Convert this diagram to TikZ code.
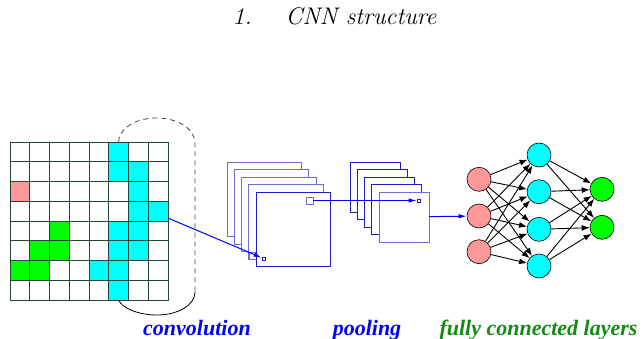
\documentclass[tikz,border=0pt]{standalone}
\usepackage{fontspec}
\newfontfamily\labelfont{Liberation Serif}
\usepackage{tikz}
\usetikzlibrary{arrows.meta}

\definecolor{mapblue}{RGB}{30,30,195}
\definecolor{backblue}{RGB}{110,110,215}
\definecolor{pinkcell}{RGB}{255,153,153}
\definecolor{aqua}{RGB}{0,255,255}
\definecolor{lime}{RGB}{0,255,0}
\definecolor{gridgreen}{RGB}{35,70,50}
\definecolor{labelgreen}{RGB}{20,140,20}

\begin{document}
\begin{tikzpicture}[x=1pt, y=-1pt,
    cell/.style={draw=gridgreen, line width=0.9pt, minimum size=19.75pt,
      inner sep=0pt, outer sep=0pt},
    fmap/.style={draw=backblue, fill=white, line width=0.9pt,
      inner sep=0pt, outer sep=0pt},
    win/.style={draw=backblue, fill=white, line width=0.9pt,
      minimum size=7pt, inner sep=0pt},
    dot/.style={draw=mapblue, fill=white, line width=0.7pt,
      minimum size=3pt, inner sep=0pt},
    neuron/.style={circle, draw=black, line width=0.6pt, minimum size=24pt,
      inner sep=0pt},
    feed/.style={-{Latex[length=8pt,width=4.5pt]}, line width=1pt, draw=blue},
    link/.style={-{Latex[length=8pt,width=6pt]}, line width=0.9pt, draw=black},
    caption/.style={anchor=base, font=\labelfont\bfseries\itshape\fontsize{22}{26}\selectfont}]
\useasboundingbox (0,0) rectangle (644,339);

\node[anchor=base, font=\itshape\fontsize{24}{29}\selectfont] (title) at (334.5,25)
  {1.\hspace{34pt}CNN structure};

% input image: coloured cells first, grid lines on top
\foreach \r/\c/\col in {0/5/aqua, 1/5/aqua, 1/6/aqua, 2/0/pinkcell, 2/6/aqua,
    3/6/aqua, 3/7/aqua, 4/2/lime, 4/5/aqua, 4/6/aqua, 5/1/lime, 5/2/lime,
    5/5/aqua, 5/6/aqua, 6/0/lime, 6/1/lime, 6/4/aqua, 6/5/aqua, 7/5/aqua}
  \fill[\col] ({10+19.75*\c},{142+19.75*\r}) rectangle +(19.75,19.75);
\foreach \r in {0,...,7}
  \foreach \c in {0,...,7}
    \node[cell] (c-\r-\c) at ({19.875+19.75*\c},{151.875+19.75*\r}) {};

% receptive field outline
\draw[black!75, line width=0.8pt, dash pattern=on 5pt off 4pt]
  (c-0-5.north) .. controls (118.6,129) and (135,118) .. (156.5,118)
  .. controls (178,118) and (195,129) .. (195,143) -- (195,292);
\draw[black, line width=0.8pt]
  (195,292) .. controls (195,305) and (178,315) .. (157,315)
  .. controls (138,315) and (122,308) .. (c-7-5.south);

% convolution maps
\foreach \i in {1,...,4}
  \node[fmap, minimum size=74.5pt] (conv\i) at ({264.25+7.3*(\i-1)},{199.25+7.5*(\i-1)}) {};
\node[win] (win4) at (252.7,255.5) {};
\node[fmap, draw=mapblue, minimum size=74.5pt] (conv5) at (293.45,229.25) {};
\node[dot] (tgt) at (263.5,258.5) {};
\node[win] (win5) at (309.5,200.5) {};

% pooling maps
\foreach \i in {1,...,4}
  \node[fmap, draw=mapblue, minimum size=50pt] (pool\i) at ({375+7.3*(\i-1)},{187+7.5*(\i-1)}) {};
\node[fmap, minimum size=50pt] (pool5) at (404.2,217) {};
\node[dot] (ptgt) at (418.5,200.5) {};

% fully connected part
\node[neuron, fill=pinkcell] (in1) at (479,179.3) {};
\node[neuron, fill=pinkcell] (in2) at (479,216) {};
\node[neuron, fill=pinkcell] (in3) at (479,251.7) {};
\node[neuron, fill=aqua] (h1) at (539,155) {};
\node[neuron, fill=aqua] (h2) at (539,191.7) {};
\node[neuron, fill=aqua] (h3) at (539,229.3) {};
\node[neuron, fill=aqua] (h4) at (539,266) {};
\node[neuron, fill=lime] (out1) at (602,189.3) {};
\node[neuron, fill=lime] (out2) at (602,227.3) {};

\draw[feed] (c-3-7.-35) -- (tgt);
\draw[feed] (win5) -- (ptgt);
\draw[feed] (pool5) -- (in2);
\foreach \a in {1,2,3}
  \foreach \b in {1,...,4}
    \draw[link] (in\a) -- (h\b);
\foreach \b in {1,...,4}
  \foreach \o in {1,2}
    \draw[link] (h\b) -- (out\o);

\node[caption, text=blue] (convlabel) at (197,335) {convolution};
\node[caption, text=blue] (poollabel) at (367,335) {pooling};
\node[caption, text=labelgreen] (fclabel) at (538.5,335) {fully connected layers};
\end{tikzpicture}
\end{document}
